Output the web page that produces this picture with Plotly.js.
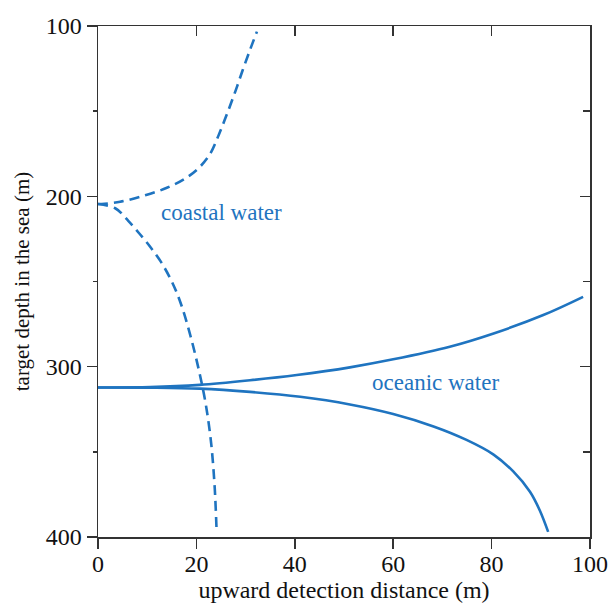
<!DOCTYPE html>
<html>
<head>
<meta charset="utf-8">
<script src="https://cdn.plot.ly/plotly-3.0.1.min.js"></script>
<style>html,body{margin:0;padding:0;background:#fff;}#chart{width:610px;height:603px;}</style>
</head>
<body>
<div id="chart"></div>
<script>
// coastal water (dashed), two branches
const coastalUpperX = [0, 0.75, 4.5, 9.6, 14, 17.7, 20.6, 22.8, 24.6, 26.3, 27.9, 29.4, 30.9, 32.3];
const coastalUpperY = [204.5, 204.5, 203.2, 199.4, 195, 189.6, 183, 175, 163.5, 151, 138.5, 126, 114, 103.3];
const coastalLowerX = [0, 3.5, 6.2, 8.4, 10.6, 12.8, 15, 16.9, 18.8, 20.5, 21.9, 23, 23.7, 24.1];
const coastalLowerY = [204.5, 207, 214.5, 221.8, 229.6, 238.5, 250, 263.5, 282, 302, 322, 345, 370, 396];
// oceanic water (solid), two branches
const oceanicUpperX = [0, 10.6, 20.7, 30.9, 40.4, 51.2, 60, 71.5, 80.4, 90.5, 98.6];
const oceanicUpperY = [312.2, 312.0, 310.7, 308.0, 304.9, 300.4, 295.7, 288.3, 280.5, 269.7, 259];
const oceanicLowerX = [0, 10.6, 20.7, 30.9, 41.1, 51.2, 60, 68.2, 74.9, 80.4, 84.4, 87.8, 89.8, 91.5];
const oceanicLowerY = [312.2, 312.3, 312.9, 314.8, 317.7, 322.2, 327.8, 335.1, 343.0, 351.6, 361.5, 373.4, 384.4, 397];

const labels = ["coastal water", "oceanic water"];
const labelX = [25.2, 68.5];
const labelY = [209.5, 309.5];

const xTitle = "upward detection distance (m)";
const yTitle = "target depth in the sea (m)";

const blue = "#1f74c0";
const fontFam = "Liberation Serif, Times New Roman, serif";

function tr(x, y, dash) {
  return {x: x, y: y, type: "scatter", mode: "lines", showlegend: false, hoverinfo: "skip",
    line: {color: blue, width: 2.6, dash: dash, shape: "spline", smoothing: 1}};
}
const data = [
  tr(coastalUpperX, coastalUpperY, "10px,6px"),
  tr(coastalLowerX, coastalLowerY, "10px,6px"),
  tr(oceanicUpperX, oceanicUpperY, "solid"),
  tr(oceanicLowerX, oceanicLowerY, "solid"),
  {x: [0], y: [100], xaxis: "x2", yaxis: "y2", type: "scatter", mode: "markers",
   marker: {opacity: 0}, showlegend: false, hoverinfo: "skip"}
];

const axisLine = {showline: true, linecolor: "#333", linewidth: 1.5, zeroline: false, showgrid: false,
  tickcolor: "#333", tickwidth: 1.5};

const layout = {
  width: 610, height: 603,
  margin: {l: 98, r: 20, t: 26, b: 66},
  paper_bgcolor: "#fff", plot_bgcolor: "#fff",
  font: {family: fontFam, size: 22, color: "#111"},
  showlegend: false,
  xaxis: Object.assign({}, axisLine, {
    range: [0, 100], tick0: 0, dtick: 20, ticks: "outside", ticklen: 10,
    ticklabelstandoff: -5,
    tickfont: {family: fontFam, size: 24, color: "#111"},
    title: {text: xTitle, font: {family: fontFam, size: 24, color: "#111"}, standoff: 3}
  }),
  yaxis: Object.assign({}, axisLine, {
    range: [400, 100], tick0: 100, dtick: 100, ticks: "outside", ticklen: 10,
    minor: {dtick: 50, ticks: "outside", ticklen: 4, tickcolor: "#333", tickwidth: 1.5, showgrid: false},
    tickfont: {family: fontFam, size: 24, color: "#111"},
    title: {text: yTitle, font: {family: fontFam, size: 21, color: "#111"}, standoff: 10}
  }),
  xaxis2: Object.assign({}, axisLine, {
    overlaying: "x", side: "top", range: [0, 100], tick0: 0, dtick: 20,
    ticks: "inside", ticklen: 10, showticklabels: false
  }),
  yaxis2: Object.assign({}, axisLine, {
    overlaying: "y", side: "right", range: [400, 100], tick0: 100, dtick: 100,
    ticks: "inside", ticklen: 10, showticklabels: false,
    minor: {dtick: 50, ticks: "inside", ticklen: 7, tickcolor: "#333", tickwidth: 1.5, showgrid: false}
  }),
  annotations: labels.map((t, i) => ({
    x: labelX[i], y: labelY[i], xref: "x", yref: "y", text: t, showarrow: false,
    font: {family: fontFam, size: 23, color: blue}
  }))
};

Plotly.newPlot("chart", data, layout, {staticPlot: true, displayModeBar: false});
</script>
</body>
</html>
